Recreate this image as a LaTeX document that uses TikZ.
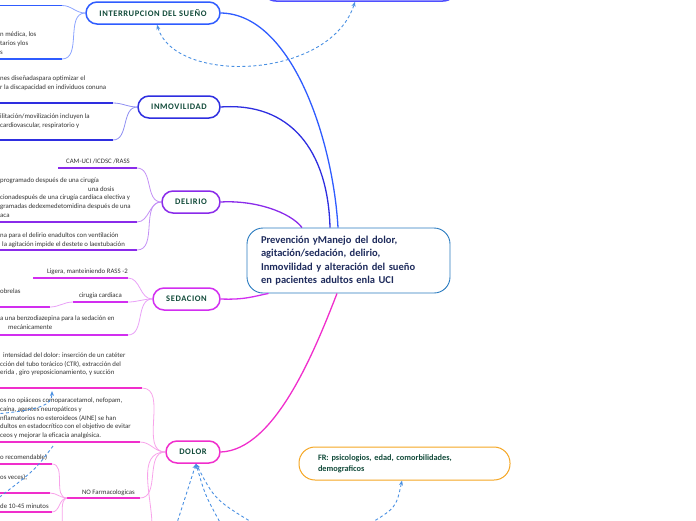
\documentclass[tikz,border=0pt]{standalone}
\usepackage{fontspec}
\setmainfont{Carlito}
\usetikzlibrary{arrows.meta}
\definecolor{cblue}{HTML}{2F5CFF}
\definecolor{cblueL}{HTML}{8CA4FF}
\definecolor{cind}{HTML}{2E2EE0}
\definecolor{cindL}{HTML}{8E8EF2}
\definecolor{cpur}{HTML}{8A2BEA}
\definecolor{cpurL}{HTML}{C390F5}
\definecolor{csed}{HTML}{D22EF0}
\definecolor{csedL}{HTML}{E9A2F7}
\definecolor{cdol}{HTML}{F02ECC}
\definecolor{cdolL}{HTML}{F8A3EA}
\definecolor{ctop}{HTML}{5050FF}
\definecolor{cdash}{HTML}{4A90E2}
\definecolor{corange}{HTML}{F5A623}
\definecolor{ccenter}{HTML}{2A7BC0}
\definecolor{cnavy}{HTML}{1E2B5C}
\definecolor{cgreen}{HTML}{124B3A}
\definecolor{ctext}{HTML}{333333}
\tikzset{
 branch/.style={draw=#1, line width=1.5pt, rounded corners=11pt, fill=white, minimum height=22pt, inner sep=0pt,
   font=\fontsize{8.5}{9}\selectfont\bfseries\addfontfeature{LetterSpace=7}, text=cgreen},
 txt/.style={anchor=base west, inner sep=0pt, font=\fontsize{6.8}{8}\selectfont, text=ctext},
 txtr/.style={txt, anchor=base east},
 uline/.style={draw=#1, line width=1.6pt},
 subcon/.style={draw=#1, line width=0.8pt},
 maincon/.style={draw=#1, line width=1.3pt},
 rel/.style={draw=cdash, line width=0.9pt, dash pattern=on 3pt off 2.5pt},
 tip/.style={-{Stealth[length=5pt,width=4pt]}},
}
\begin{document}
\begin{tikzpicture}[x=1pt,y=-1pt]
\useasboundingbox (0,0) rectangle (696,520);
% ---------- main nodes ----------
\node[draw=ctop, line width=1.5pt, rounded corners=14pt, fill=white, minimum width=195pt, minimum height=31pt, inner sep=0pt] (top) at (359.5,-14.5) {};
\node[draw=ccenter, line width=0.9pt, rounded corners=16pt, fill=white, minimum width=203pt, minimum height=65pt,
  text width=175pt, inner xsep=14pt, align=left, font=\fontsize{10.5}{13.5}\selectfont\bfseries, text=cnavy] (c) at (348.5,260.5)
  {Prevención yManejo del dolor,\\agitación/sedación, delirio,\\Inmovilidad y alteración del sueño\\en pacientes adultos enla UCI};
\node[branch=cblue, minimum width=134pt] (ins) at (153,13) {INTERRUPCION DEL SUEÑO};
\node[branch=cind, minimum width=82pt] (inm) at (179,107) {INMOVILIDAD};
\node[branch=cpur, minimum width=58pt] (del) at (191,202) {DELIRIO};
\node[branch=csed, minimum width=67pt] (sed) at (186.5,299) {SEDACION};
\node[branch=cdol, minimum width=54pt] (dol) at (193,452) {DOLOR};
\node[draw=corange, line width=1pt, rounded corners=16pt, fill=white, minimum width=211pt, minimum height=33pt,
  text width=173pt, inner xsep=19pt, align=left, font=\fontsize{8.3}{11}\selectfont\bfseries, text=cgreen] (fr) at (404.5,463.5)
  {FR: psicologios, edad, comorbilidades,\\demograficos};
% ---------- main connectors ----------
\draw[maincon=cblue] (ins.east) .. controls (292,14) and (333,140) .. ([xshift=-10.5pt]c.north);
\draw[maincon=cind] (inm.east) .. controls (290,102) and (328,150) .. ([xshift=-18.5pt]c.north);
\draw[maincon=cpur] (del.east) .. controls (255,200) and (290,212) .. ([xshift=-46.5pt]c.north);
\draw[maincon=csed] (sed.east) .. controls (245,300) and (255,296) .. ([xshift=-80pt]c.south);
\draw[maincon=cdol] (dol.east) .. controls (275,450) and (315,350) .. ([xshift=-11.5pt]c.south);
% ---------- INTERRUPCION subtopics ----------
\coordinate (ia0) at (-5,5.5); \coordinate (ia1) at (62,5.5);
\coordinate (ib0) at (-5,59); \coordinate (ib1) at (62,59);
\draw[uline=cblue] (ia0) -- (ia1);
\draw[uline=cblue] (ib0) -- (ib1);
\draw[subcon=cblueL] (ia1) to[out=0,in=180] (ins.west);
\draw[subcon=cblueL] (ib1) to[out=0,in=180] (ins.west);
\node[txt] (t1) at (0,36.5) {n médica, los};
\node[txt] (t2) at (0,45.5) {tarios ylos};
\node[txt] (t3) at (0,54.5) {s};
% ---------- INMOVILIDAD subtopics ----------
\coordinate (ma0) at (-5,103); \coordinate (ma1) at (113,103);
\coordinate (mb0) at (-5,140); \coordinate (mb1) at (113,140);
\draw[uline=cind] (ma0) -- (ma1);
\draw[uline=cind] (mb0) -- (mb1);
\draw[subcon=cindL] (ma1) to[out=0,in=180] (inm.west);
\draw[subcon=cindL] (mb1) to[out=0,in=180] (inm.west);
\node[txt] (t4) at (0,80.5) {nes diseñadaspara optimizar el};
\node[txt] (t5) at (0,89.5) {r la discapacidad en individuos conuna};
\node[txt] (t6) at (0,118.5) {ilitación/movilización incluyen la};
\node[txt] (t7) at (0,127.5) {cardiovascular, respiratorio y};
% ---------- DELIRIO subtopics ----------
\coordinate (da0) at (58,168); \coordinate (da1) at (137,168);
\coordinate (db0) at (-5,222); \coordinate (db1) at (137,222);
\coordinate (dc0) at (-5,250); \coordinate (dc1) at (137,250);
\draw[uline=cpur] (da0) -- (da1);
\draw[uline=cpur] (db0) -- (db1);
\draw[uline=cpur] (dc0) -- (dc1);
\draw[subcon=cpurL] (da1) to[out=0,in=180] (del.west);
\draw[subcon=cpurL] (db1) to[out=0,in=180] (del.west);
\draw[subcon=cpurL] (dc1) to[out=0,in=180] (del.west);
\node[txtr] (t8) at (130,163.5) {CAM-UCI  /ICDSC  /RASS};
\node[txt] (t9) at (0,182.5) {programado después de una cirugía};
\node[txt] (t10) at (88,191) {una dosis};
\node[txt] (t11) at (0,199.5) {cionadespués de una cirugía cardíaca electiva y};
\node[txt] (t12) at (0,208.5) {gramadas dedexmedetomidina después de una};
\node[txt] (t13) at (0,217) {aca};
\node[txt] (t14) at (0,237.5) {na para el delirio enadultos con ventilación};
\node[txt] (t15) at (2,246) {la agitación impide el destete o laextubación};
% ---------- SEDACION subtopics ----------
\coordinate (sa0) at (33,278); \coordinate (sa1) at (128,278);
\coordinate (sb0) at (73,302); \coordinate (sb1) at (128,302);
\coordinate (sc0) at (-5,307); \coordinate (sc1) at (50,307);
\coordinate (sd0) at (-5,335); \coordinate (sd1) at (128,335);
\draw[uline=csed] (sa0) -- (sa1);
\draw[uline=csed] (sb0) -- (sb1);
\draw[uline=csed] (sc0) -- (sc1);
\draw[uline=csed] (sd0) -- (sd1);
\draw[subcon=csedL] (sa1) to[out=0,in=180] (sed.west);
\draw[subcon=csedL] (sb1) to[out=0,in=180] (sed.west);
\draw[subcon=csedL] (sd1) to[out=0,in=180] (sed.west);
\draw[subcon=csedL] (sb0) to[out=180,in=0] (sc1);
\node[txtr] (t16) at (128,273) {Ligera,  manteiniendo  RASS  -2};
\node[txtr] (t17) at (122,297.5) {cirugia cardiaca};
\node[txt] (t18) at (0,293) {obrelas};
\node[txt] (t19) at (0,320.5) {a una benzodiazepina para la sedación en};
\node[txt] (t20) at (8,329.5) {mecánicamente};
% ---------- DOLOR subtopics ----------
\coordinate (pa0) at (-5,388); \coordinate (pa1) at (142,388);
\coordinate (pb0) at (-5,442); \coordinate (pb1) at (140,442);
\coordinate (nf0) at (67,498); \coordinate (nf1) at (140,498);
\coordinate (pc0) at (-5,464); \coordinate (pc1) at (52,464);
\coordinate (pd0) at (-5,493); \coordinate (pd1) at (50,493);
\coordinate (pe0) at (-5,512); \coordinate (pe1) at (52,512);
\coordinate (pf) at (62,526);
\coordinate (pg) at (152,526);
\draw[uline=cdol] (pa0) -- (pa1);
\draw[uline=cdol] (pb0) -- (pb1);
\draw[uline=cdol] (nf0) -- (nf1);
\draw[uline=cdol] (pc0) -- (pc1);
\draw[uline=cdol] (pd0) -- (pd1);
\draw[uline=cdol] (pe0) -- (pe1);
\draw[subcon=cdolL] (pa1) to[out=0,in=180] (dol.west);
\draw[subcon=cdolL] (pb1) to[out=0,in=180] (dol.west);
\draw[subcon=cdolL] (nf1) to[out=0,in=180] (dol.west);
\draw[subcon=cdolL] (dol.west) to[out=180,in=90] (pg);
\draw[subcon=cdolL] (nf0) to[out=180,in=0] (pc1);
\draw[subcon=cdolL] (nf0) to[out=180,in=0] (pd1);
\draw[subcon=cdolL] (nf0) to[out=180,in=0] (pe1);
\draw[subcon=cdolL] (nf0) .. controls (60,500) and (63,512) .. (pf);
\node[txt] (t21) at (3,357) {intensidad del dolor: inserción de un catéter};
\node[txt] (t22) at (0,366) {cción del tubo torácico (CTR), extracción del};
\node[txt] (t23) at (0,374.5) {erida , giro  yreposicionamiento, y succión};
\node[txt] (t24) at (0,402.5) {os no opiáceos comoparacetamol, nefopam,};
\node[txt] (t25) at (0,411) {caína, agentes neuropáticos y};
\node[txt] (t26) at (0,420) {nflamatorios no esteroideos (AINE) se han};
\node[txt] (t27) at (0,428.5) {dultos en estadocrítico con el objetivo de evitar};
\node[txt] (t28) at (0,437) {ceos y mejorar la eficacia analgésica.};
\node[txt] (t29) at (0,459) {o recomendable)};
\node[txt] (t30) at (0,479) {os veces),};
\node[txt] (t31) at (0,508) {de 10-45 minutos};
\node[txtr] (t32) at (135,494.5) {NO Farmacologicas};
% ---------- relations (dashed) ----------
\draw[rel,{Stealth[length=5pt,width=4pt]}-{Stealth[length=5pt,width=4pt]}] ([xshift=4pt]ins.south) .. controls (175,85) and (330,80) .. ([xshift=-4.5pt]top.south);
\coordinate (r1) at (176,526);
\coordinate (r2) at (222,526);
\coordinate (r3) at (258,526);
\coordinate (r4) at (366,526);
\coordinate (r5) at (-5,414);
\coordinate (r6) at (52,391);
\coordinate (r7) at (53,446);
\coordinate (r8) at (-3,499);
\draw[rel,tip] (r1) .. controls (186,495) .. ([xshift=3pt]dol.south);
\draw[rel,tip] (r2) .. controls (205,495) .. ([xshift=3pt]dol.south);
\draw[rel,tip] (r3) .. controls (215,500) .. ([xshift=3pt]dol.south);
\draw[rel,tip] (r4) .. controls (396,508) .. ([xshift=-2.5pt]fr.south);
\draw[rel,tip] (r5) .. controls (40,410) and (52,405) .. (r6);
\draw[rel] (r7) .. controls (35,470) .. (r8);
\end{tikzpicture}
\end{document}
